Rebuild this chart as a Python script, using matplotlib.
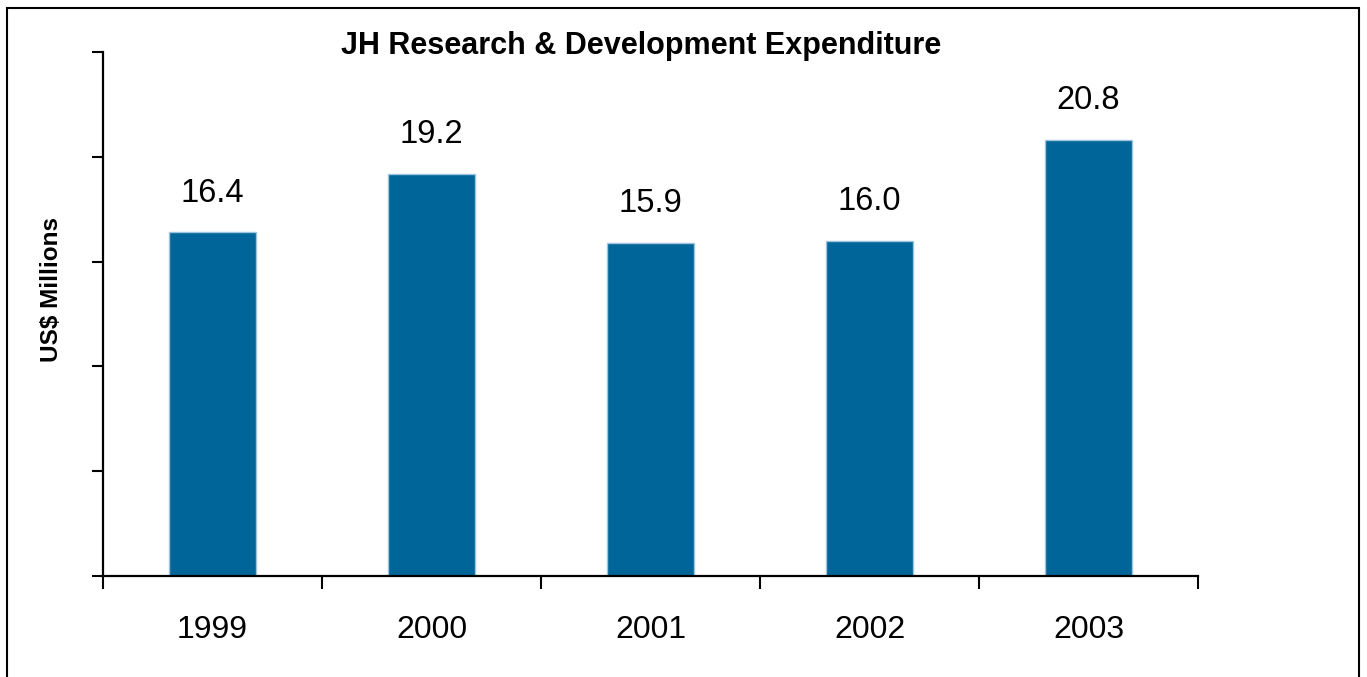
import matplotlib
matplotlib.use("Agg")
import matplotlib.pyplot as plt
from matplotlib.patches import Rectangle

years = ["1999", "2000", "2001", "2002", "2003"]
values = [16.4, 19.2, 15.9, 16.0, 20.8]
value_labels = ["16.4", "19.2", "15.9", "16.0", "20.8"]

plt.rcParams['font.family'] = ['Liberation Sans', 'DejaVu Sans']

fig = plt.figure(figsize=(13.67, 6.77), dpi=100)
ax = fig.add_axes([103/1367, 1 - 576/677, (1198-103)/1367, (576-52)/677])

x = list(range(len(years)))
ax.bar(x, values, width=0.4, color="#006699", edgecolor="#9cc6e0", linewidth=1.0)
for xi, v, lab in zip(x, values, value_labels):
    ax.annotate(lab, (xi, v), xytext=(0, 17), textcoords="offset points",
                ha="center", va="bottom", fontsize=23.5)

ax.set_xlim(-0.5, len(years) - 0.5)
ax.set_ylim(0, 25)
ax.set_yticks([0, 5, 10, 15, 20, 25])
ax.set_yticklabels([])
ax.set_xticks([i - 0.5 for i in range(len(years) + 1)])
ax.set_xticklabels([])
ax.set_xticks(x, minor=True)
ax.set_xticklabels(years, minor=True, fontsize=23)
ax.tick_params(axis="x", which="minor", length=0, pad=28)
ax.tick_params(axis="x", which="major", direction="out", length=9, width=1.5)
ax.tick_params(axis="y", direction="out", length=8, width=1.5)
for s in ["top", "right"]:
    ax.spines[s].set_visible(False)
for s in ["left", "bottom"]:
    ax.spines[s].set_linewidth(1.6)

fig.text(52/1367, 1 - 289/677, "US$ Millions", rotation=90, ha="center", va="center",
         fontsize=17.5, fontweight="bold")
fig.text(641/1367, 1 - 46/677, "JH Research & Development Expenditure", ha="center",
         va="center", fontsize=22, fontweight="bold")

fig.patches.append(Rectangle((7/1367, -0.05), (1359-7)/1367, 1 - 8/677 + 0.05,
                             transform=fig.transFigure, fill=False,
                             edgecolor="black", linewidth=1.5))

fig.savefig("out.png", dpi=100)
